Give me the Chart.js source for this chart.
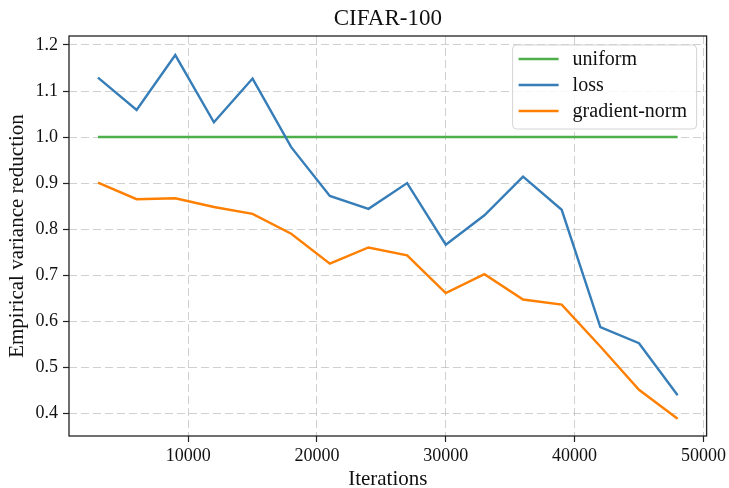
<!DOCTYPE html>
<html>
<head>
<meta charset="utf-8">
<title>CIFAR-100</title>
<script src="https://cdn.jsdelivr.net/npm/chart.js@4.4.1/dist/chart.umd.min.js"></script>
<style>
    html, body { margin: 0; padding: 0; background: #ffffff; }
    #wrap { width: 729px; height: 488px; }
</style>
</head>
<body>
<div id="wrap"><canvas id="chart" width="729" height="488"></canvas></div>
<script>
// values
var iterations = [3000, 6000, 9000, 12000, 15000, 18000, 21000, 24000,
                  27000, 30000, 33000, 36000, 39000, 42000, 45000, 48000];
var uniformValues = [1.0, 1.0, 1.0, 1.0, 1.0, 1.0, 1.0, 1.0,
                     1.0, 1.0, 1.0, 1.0, 1.0, 1.0, 1.0, 1.0];
var lossValues = [1.129, 1.059, 1.178, 1.032, 1.127, 0.978, 0.872, 0.844,
                  0.900, 0.766, 0.830, 0.914, 0.842, 0.587, 0.552, 0.439];
var gradNormValues = [0.901, 0.865, 0.867, 0.848, 0.833, 0.790, 0.725, 0.760,
                      0.743, 0.661, 0.702, 0.647, 0.636, 0.545, 0.451, 0.388];
var seriesNames = ['uniform', 'loss', 'gradient-norm'];
var xTicks = [10000, 20000, 30000, 40000, 50000];
var yTicks = [0.4, 0.5, 0.6, 0.7, 0.8, 0.9, 1.0, 1.1, 1.2];

var FONT = "'Liberation Serif', 'DejaVu Serif', serif";
var colors = ['#4daf4a', '#377eb8', '#ff7f00'];

function toPoints(xs, ys) {
    var pts = [];
    for (var i = 0; i < xs.length; i++) {
        pts.push({ x: xs[i], y: ys[i] });
    }
    return pts;
}

/// SUMMARY
///        title, frame and legend drawn the matplotlib way
const framePlugin = {
    id: 'frame',
    afterDraw(chart) {
        const ctx = chart.ctx;
        const a = chart.chartArea;
        ctx.save();

        // title over the plot area
        ctx.fillStyle = '#111';
        ctx.font = '23px ' + FONT;
        ctx.textAlign = 'center';
        ctx.textBaseline = 'alphabetic';
        ctx.fillText('CIFAR-100', (a.left + a.right) / 2, 25);

        // spines
        ctx.strokeStyle = '#222';
        ctx.lineWidth = 1.3;
        ctx.strokeRect(a.left, a.top, a.right - a.left, a.bottom - a.top);

        // legend box, upper right
        var bx = a.right - 194, by = a.top + 9, bw = 184, bh = 84;
        ctx.beginPath();
        ctx.roundRect(bx, by, bw, bh, 4);
        ctx.fillStyle = 'rgba(255,255,255,0.85)';
        ctx.fill();
        ctx.strokeStyle = '#d4d4d4';
        ctx.lineWidth = 1;
        ctx.stroke();

        ctx.font = '20px ' + FONT;
        ctx.textAlign = 'left';
        ctx.textBaseline = 'middle';
        chart.data.datasets.forEach((ds, i) => {
            var y = by + 14 + i * 26;
            ctx.strokeStyle = ds.borderColor;
            ctx.lineWidth = 2.4;
            ctx.beginPath();
            ctx.moveTo(bx + 6, y);
            ctx.lineTo(bx + 46, y);
            ctx.stroke();
            ctx.fillStyle = '#111';
            ctx.fillText(ds.label, bx + 60, y + 1);
        });
        ctx.restore();
    }
};

function createChart(elementId) {
    const canvas = document.getElementById(elementId);

    const data = {
        datasets: [
            { label: seriesNames[0], data: toPoints(iterations, uniformValues), borderColor: colors[0], order: 3 },
            { label: seriesNames[1], data: toPoints(iterations, lossValues), borderColor: colors[1], order: 2 },
            { label: seriesNames[2], data: toPoints(iterations, gradNormValues), borderColor: colors[2], order: 1 }
        ].map(function (ds) {
            ds.borderWidth = 2.4;
            ds.pointRadius = 0;
            ds.tension = 0;
            ds.fill = false;
            return ds;
        })
    };

    const gridStyle = {
        color: 'rgba(170,170,170,0.55)',
        lineWidth: 1,
        tickColor: '#222',
        tickWidth: 1.2,
        tickLength: 6,
        tickBorderDash: []
    };

    const config = {
        type: 'line',
        data: data,
        options: {
            responsive: false,
            devicePixelRatio: 1,
            animation: false,
            layout: {
                padding: { left: 0, right: 22, top: 36, bottom: 0 }
            },
            scales: {
                x: {
                    type: 'linear',
                    min: 750,
                    max: 50250,
                    grid: gridStyle,
                    border: { display: false, dash: [8, 4] },
                    afterFit: function (scale) { scale.height = 52; },
                    afterBuildTicks: function (scale) {
                        scale.ticks = xTicks.map(v => ({ value: v }));
                    },
                    ticks: {
                        padding: 3,
                        color: '#111',
                        font: { family: FONT, size: 18 },
                        maxRotation: 0,
                        callback: function (v) { return String(v); }
                    },
                    title: {
                        display: true,
                        text: 'Iterations',
                        color: '#111',
                        font: { family: FONT, size: 21, lineHeight: 0.85 },
                        padding: { top: 0, bottom: 0 }
                    }
                },
                y: {
                    type: 'linear',
                    min: 0.3505,
                    max: 1.2195,
                    grid: gridStyle,
                    border: { display: false, dash: [8, 4] },
                    afterFit: function (scale) { scale.width = 69; },
                    afterBuildTicks: function (scale) {
                        scale.ticks = yTicks.map(v => ({ value: v }));
                    },
                    ticks: {
                        padding: 5,
                        color: '#111',
                        font: { family: FONT, size: 18 },
                        callback: function (v) { return v.toFixed(1); }
                    },
                    title: {
                        display: true,
                        text: 'Empirical variance reduction',
                        color: '#111',
                        font: { family: FONT, size: 21, lineHeight: 1.2 },
                        padding: { top: 5, bottom: 0 }
                    }
                }
            },
            plugins: {
                legend: { display: false },
                title: { display: false },
                tooltip: { enabled: false }
            }
        },
        plugins: [framePlugin]
    };

    return new Chart(canvas, config);
}

createChart('chart');
</script>
</body>
</html>
